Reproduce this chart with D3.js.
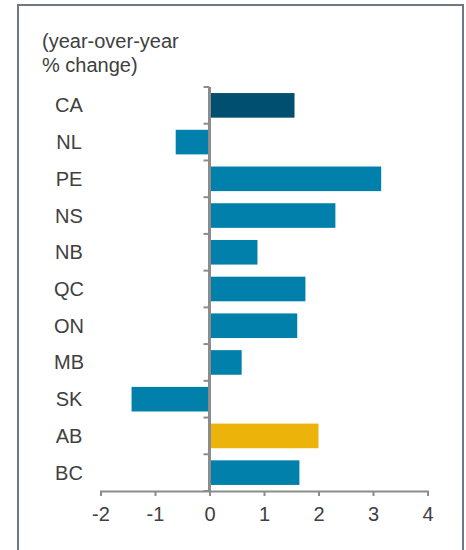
<!DOCTYPE html>
<html>
<head>
<meta charset="utf-8">
<script src="https://cdn.jsdelivr.net/npm/d3@7"></script>
<style>
  body { margin: 0; background: #fff; }
  svg { display: block; font-family: "Liberation Sans", Arial, sans-serif; }
</style>
</head>
<body>
<svg width="466" height="550"></svg>
<script>
// provinces, top to bottom
var provinces = ["CA", "NL", "PE", "NS", "NB", "QC", "ON", "MB", "SK", "AB", "BC"];
// year-over-year % change
var changes = [1.56, -0.62, 3.15, 2.31, 0.88, 1.76, 1.61, 0.59, -1.43, 2.0, 1.65];
var xTicks = [-2, -1, 0, 1, 2, 3, 4];
var unitLines = ["(year-over-year", "% change)"];

var svg = d3.select("svg");

// outer frame
svg.append("rect")
  .attr("x", 18).attr("y", 5)
  .attr("width", 445).attr("height", 560)
  .attr("fill", "none")
  .attr("stroke", "#6d7a86")
  .attr("stroke-width", 2);

var x = d3.scaleLinear().domain([-2, 4]).range([100.5, 427.5]);
var y = d3.scaleBand().domain(provinces).range([87, 491]).paddingInner(0.33).paddingOuter(0.165);

function barColor(p) {
  if (p === "CA") return "#004f70";
  if (p === "AB") return "#ecb40a";
  return "#0080aa";
}

svg.selectAll("rect.bar")
  .data(provinces)
  .enter()
  .append("rect")
  .attr("class", "bar")
  .attr("x", function(d, i) { return x(Math.min(0, changes[i])); })
  .attr("y", function(d) { return y(d); })
  .attr("width", function(d, i) { return Math.abs(x(changes[i]) - x(0)); })
  .attr("height", y.bandwidth())
  .attr("fill", barColor);

// x axis (plain hyphen for negatives)
var xAxis = svg.append("g")
  .attr("transform", "translate(0,491)")
  .call(d3.axisBottom(x).tickValues(xTicks).tickSize(5).tickPadding(11)
    .tickFormat(function(d) { return String(d); }));
xAxis.select(".domain").attr("stroke", "#8c8c8c").attr("stroke-width", 2);
xAxis.selectAll(".tick line").attr("stroke", "#8c8c8c").attr("stroke-width", 2);
xAxis.selectAll(".tick text")
  .attr("fill", "#404040")
  .style("font-size", "20px")
  .style("font-family", "Liberation Sans, Arial, sans-serif");

// y axis at zero with ticks at category boundaries
var step = y.step();
var bounds = d3.range(provinces.length + 1).map(function(i) { return 87 + i * step; });
svg.selectAll("line.ytick")
  .data(bounds)
  .enter()
  .append("line")
  .attr("class", "ytick")
  .attr("x1", x(0) - 6).attr("x2", x(0))
  .attr("y1", function(d) { return d; })
  .attr("y2", function(d) { return d; })
  .attr("stroke", "#8c8c8c")
  .attr("stroke-width", 2);
svg.append("line")
  .attr("x1", x(0)).attr("x2", x(0))
  .attr("y1", 87).attr("y2", 491)
  .attr("stroke", "#8c8c8c")
  .attr("stroke-width", 3);

// category labels
svg.selectAll("text.cat")
  .data(provinces)
  .enter()
  .append("text")
  .attr("class", "cat")
  .attr("x", 69)
  .attr("y", function(d) { return y(d) + y.bandwidth() / 2; })
  .attr("dy", "0.35em")
  .attr("text-anchor", "middle")
  .attr("fill", "#404040")
  .style("font-size", "20px")
  .text(function(d) { return d; });

// unit label
svg.selectAll("text.unit")
  .data(unitLines)
  .enter()
  .append("text")
  .attr("class", "unit")
  .attr("x", 42)
  .attr("y", function(d, i) { return 48 + i * 24; })
  .attr("fill", "#404040")
  .style("font-size", "20px")
  .text(function(d) { return d; });
</script>
</body>
</html>
